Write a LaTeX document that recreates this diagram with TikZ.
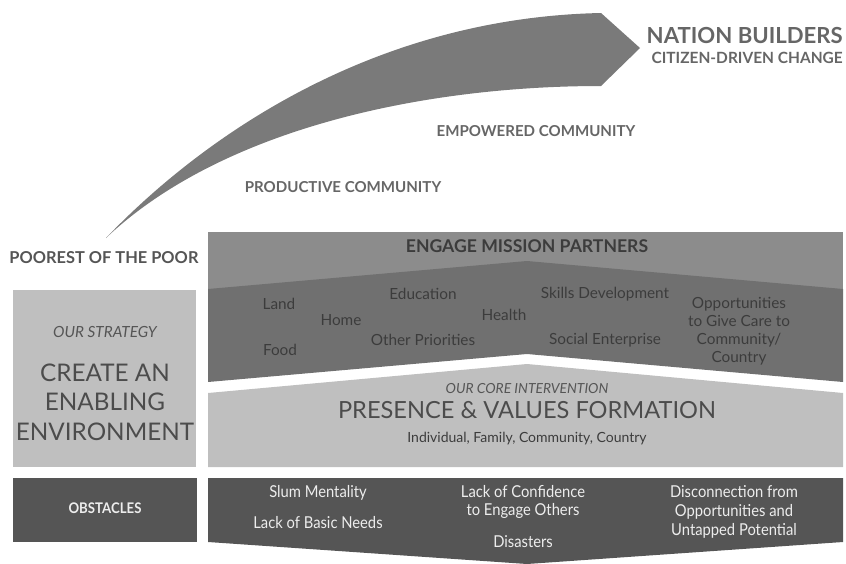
\documentclass[tikz,border=0pt]{standalone}
\usepackage{fontspec}
\setmainfont{Lato}
\newfontfamily\condfont[FakeStretch=0.9]{Lato}
\usetikzlibrary{positioning}

\definecolor{arrowgray}{HTML}{7A7A7A}
\definecolor{labelgray}{HTML}{666666}
\definecolor{bandtop}{HTML}{8C8C8C}
\definecolor{banddark}{HTML}{707070}
\definecolor{boxlight}{HTML}{BFBFBF}
\definecolor{boxdark}{HTML}{555555}
\definecolor{inkgray}{HTML}{3C3C3C}

\begin{document}
\begin{tikzpicture}[
        x = 0.75pt,
        y = -0.75pt,
        stage/.style = {
                font=\fontsize{11.3}{13}\selectfont\bfseries,
                text=labelgray,
                inner sep=0pt
            },
        item/.style = {
                font=\fontsize{11.5}{13.5}\selectfont,
                text=inkgray,
                align=center,
                inner sep=0pt
            },
        bigtitle/.style = {
                font=\fontsize{17.7}{22}\selectfont,
                text=boxdark!90!black,
                align=center,
                inner sep=0pt
            },
        obstacle/.style = {
                font=\condfont\fontsize{12.3}{14}\selectfont,
                text=white!93!black,
                align=center,
                inner sep=0pt
            }
    ]
    \useasboundingbox (0,0) rectangle (846,564);

    % the rising arrow
    \fill[arrowgray] (106,238) .. controls (190,150) and (360,18) .. (601,13)
        -- (640,48) -- (601,86) .. controls (420,86) and (220,130) .. cycle;

    \node[stage,anchor=east,font=\fontsize{16.6}{19}\selectfont\bfseries] (nation) at (843,35) {NATION BUILDERS};
    \node[stage,font=\fontsize{11.6}{13}\selectfont\bfseries] (citizen) [below left=6pt and 0pt of nation.south east] {CITIZEN-DRIVEN CHANGE};
    \node[stage] (empowered) at (536,131) {EMPOWERED COMMUNITY};
    \node[stage] (productive) at (343,187) {PRODUCTIVE COMMUNITY};
    \node[stage,text=boxdark,font=\fontsize{12.3}{14}\selectfont\bfseries] (poorest) at (104,258) {POOREST OF THE POOR};

    % mission partners band
    \fill[bandtop] (208,232) rectangle (843,289);
    \fill[banddark] (208,289) -- (527,261) -- (843,289) -- (843,382) -- (527,354) -- (208,382) -- cycle;
    \node[item,font=\fontsize{13.2}{15}\selectfont\bfseries] (engage) at (527,246) {ENGAGE MISSION PARTNERS};

    \node[item] (land) at (279,304) {Land};
    \node[item] (home) at (341,320) {Home};
    \node[item] (food) at (280,350) {Food};
    \node[item] (education) at (423,294) {Education};
    \node[item] (other) at (423,340) {Other Priorities};
    \node[item] (health) at (504,315) {Health};
    \node[item] (skills) at (605,294) {Skills Development};
    \node[item] (social) at (605,340) {Social Enterprise};
    \node[item] (care) at (739,331) {Opportunities\\to Give Care to\\Community/\\Country};

    % core intervention
    \fill[boxlight] (208,393) -- (527,364) -- (843,393) -- (843,467) -- (208,467) -- cycle;
    \node[item,font=\fontsize{10.4}{12}\selectfont\itshape,text=boxdark] (core) at (527,389) {OUR CORE INTERVENTION};
    \node[bigtitle] (presence) at (527,410) {PRESENCE \& VALUES FORMATION};
    \node[item,font=\fontsize{10.5}{12}\selectfont] (levels) at (527,439) {Individual, Family, Community, Country};

    % strategy
    \fill[boxlight] (13,290) rectangle (196,467);
    \node[item,font=\fontsize{11.5}{13}\selectfont\itshape,text=boxdark] (strategy) at (105,332) {OUR STRATEGY};
    \node[bigtitle,font=\fontsize{18.2}{22.2}\selectfont] (create) at (105,402) {CREATE AN\\ENABLING\\ENVIRONMENT};

    % obstacles
    \fill[boxdark] (13,478) rectangle (197,542);
    \fill[boxdark] (208,478) -- (843,478) -- (843,542) -- (527,564) -- (208,542) -- cycle;
    \node[obstacle,font=\condfont\fontsize{11}{12}\selectfont\bfseries] (obstacles) at (105,508) {OBSTACLES};
    \node[obstacle] (slum) at (318,493) {Slum Mentality};
    \node[obstacle] (basic) at (318,523) {Lack of Basic Needs};
    \node[obstacle] (confidence) at (523,502) {Lack of Confidence\\to Engage Others};
    \node[obstacle] (disasters) at (523,542) {Disasters};
    \node[obstacle] (disconnect) at (734,512) {Disconnection from\\Opportunities and\\Untapped Potential};
\end{tikzpicture}
\end{document}
